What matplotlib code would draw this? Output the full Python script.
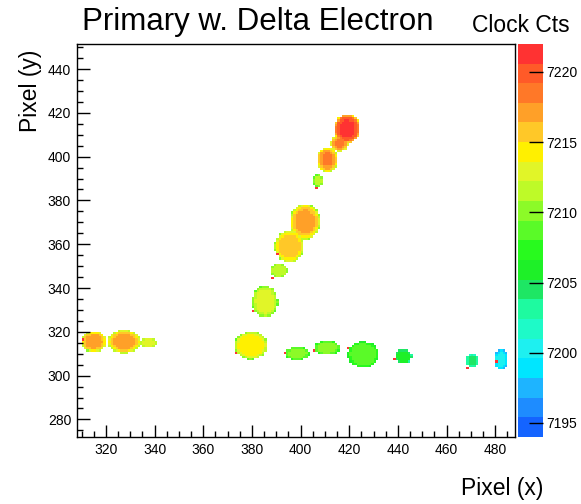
import numpy as np
import matplotlib
matplotlib.use('Agg')
import matplotlib.pyplot as plt
from matplotlib.colors import ListedColormap
from matplotlib.ticker import MultipleLocator

plt.rcParams['font.family'] = ['Liberation Sans', 'DejaVu Sans']

# charge clusters on the sensor: centre (x, y), half sizes, core and rim clock counts
blob_x = [315.1, 327.5, 337.5, 379.6, 398.6, 410.9, 425.7, 442.1, 470.5, 482.4,
          419.1, 416.0, 410.9, 407.2, 401.8, 395.3, 391.2, 385.4]
blob_y = [315.6, 315.6, 315.0, 313.8, 310.1, 312.8, 309.7, 308.8, 306.9, 307.4,
          412.7, 406.0, 398.6, 389.0, 370.3, 359.0, 348.0, 333.9]
blob_rx = [5.3, 6.8, 4.0, 6.8, 5.2, 5.4, 6.4, 3.6, 2.8, 2.9,
           5.4, 3.6, 4.4, 2.1, 6.2, 6.0, 3.6, 5.2]
blob_ry = [4.8, 5.3, 2.1, 6.4, 2.9, 3.2, 6.0, 3.3, 3.1, 4.6,
           6.6, 3.6, 5.7, 2.8, 8.2, 7.2, 3.2, 7.2]
blob_core = [7217, 7217, 7213, 7215, 7210, 7210, 7209, 7206, 7204, 7200,
             7221, 7218, 7218, 7212, 7217, 7216, 7212, 7213]
blob_edge = [7210, 7210, 7209, 7209, 7207, 7207, 7206, 7203, 7201, 7197,
             7214, 7212, 7210, 7208, 7210, 7210, 7208, 7209]

# single hot pixels on the cluster rims
hot_x = [310, 373, 393, 405, 419, 438, 468, 480, 406, 390, 388, 380]
hot_y = [316, 310, 310, 311, 312, 307, 303, 306, 385, 355, 344, 329]
hot_val = 7221

x_edges = np.arange(308, 489)
y_edges = np.arange(272, 453)

# ROOT style 20 level palette, low to high
palette = ['#1464ff', '#1e8cff', '#1eb4ff', '#00e6ff', '#1ef0f0',
           '#1efac8', '#1efaa0', '#1ee664', '#1ef028', '#28fa1e',
           '#5afa28', '#8cfa28', '#befa28', '#e1f528', '#fff000',
           '#ffc828', '#ffa028', '#ff7828', '#ff5a28', '#ff3232']
cmap = ListedColormap(palette)

xc = 0.5 * (x_edges[:-1] + x_edges[1:])
yc = 0.5 * (y_edges[:-1] + y_edges[1:])
X, Y = np.meshgrid(xc, yc)
counts = np.full(X.shape, np.nan)
for bx, by, rx, ry, vc, ve in zip(blob_x, blob_y, blob_rx, blob_ry, blob_core, blob_edge):
    d2 = ((X - bx) / rx) ** 2 + ((Y - by) / ry) ** 2
    inside = d2 <= 1
    # flat core, drop to the rim value near the edge
    val = vc - (vc - ve) * d2 ** 3
    counts[inside] = np.fmax(counts[inside], val[inside])
for hx, hy in zip(hot_x, hot_y):
    counts[hy - y_edges[0], hx - x_edges[0]] = hot_val
counts = np.ma.masked_invalid(counts)

fig = plt.figure(figsize=(5.81, 5.04), dpi=100)
ax = fig.add_axes([0.132, 0.133, 0.754, 0.780])
cax = fig.add_axes([0.8916, 0.133, 0.043, 0.780])

mesh = ax.pcolormesh(x_edges, y_edges, counts, cmap=cmap, vmin=7194, vmax=7222)
ax.set_xlim(308, 488)
ax.set_ylim(272, 451.5)

ax.xaxis.set_major_locator(MultipleLocator(20))
ax.xaxis.set_minor_locator(MultipleLocator(5))
ax.yaxis.set_major_locator(MultipleLocator(20))
ax.yaxis.set_minor_locator(MultipleLocator(5))
ax.tick_params(which='major', direction='in', length=9, width=1, labelsize=10, pad=4)
ax.tick_params(which='minor', direction='in', length=4.5, width=1)
for s in ax.spines.values():
    s.set_linewidth(1)

cb = fig.colorbar(mesh, cax=cax)
cb.outline.set_visible(False)
cb.set_ticks([7195, 7200, 7205, 7210, 7215, 7220])
cax.tick_params(direction='in', length=10, width=1, labelsize=10, pad=2)

fig.text(82 / 581, 1 - 30 / 504, 'Primary w. Delta Electron', fontsize=22.5,
         ha='left', va='baseline')
fig.text(570 / 581, 1 - 25 / 504, 'Clock Cts', fontsize=16.5, ha='right', va='center')
fig.text(543 / 581, 1 - 488 / 504, 'Pixel (x)', fontsize=16.5, ha='right', va='center')
fig.text(30 / 581, 1 - 50 / 504, 'Pixel (y)', fontsize=16.5, ha='center', va='top',
         rotation=90)

fig.savefig('out.png', dpi=100)
